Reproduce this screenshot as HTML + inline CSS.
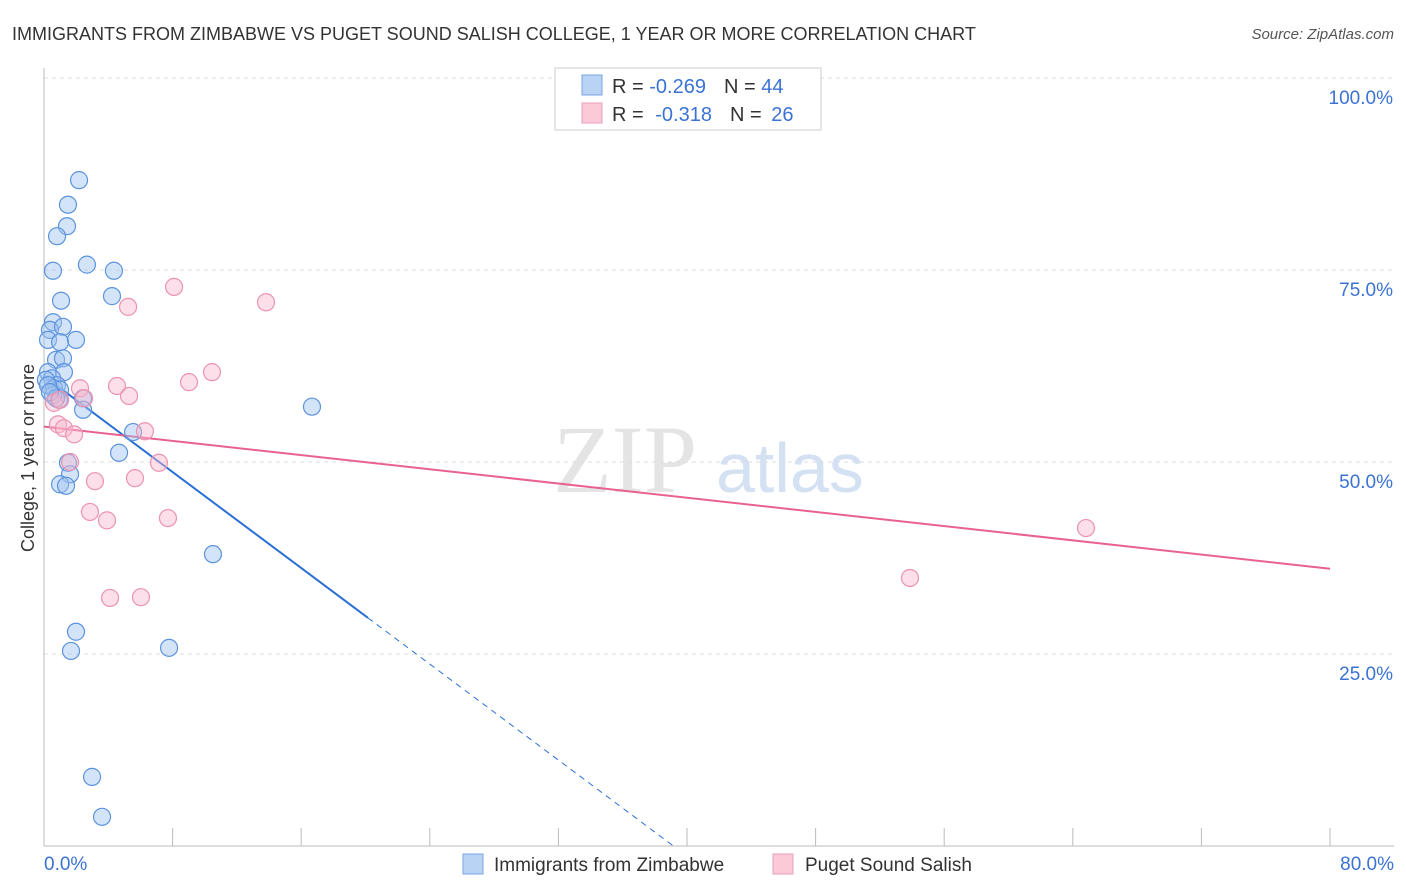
<!DOCTYPE html>
<html><head><meta charset="utf-8"><style>
body{margin:0;background:#fff;font-family:"Liberation Sans",sans-serif}
svg{display:block}
</style></head><body>
<svg id="chart" width="1406" height="892">
<text x="12" y="40" font-size="18" fill="#333">IMMIGRANTS FROM ZIMBABWE VS PUGET SOUND SALISH COLLEGE, 1 YEAR OR MORE CORRELATION CHART</text>
<text x="1394" y="39" font-size="15" fill="#555" font-style="italic" text-anchor="end">Source: ZipAtlas.com</text>
<text x="0" y="0" transform="translate(34,458) rotate(-90)" font-size="18" fill="#333" text-anchor="middle">College, 1 year or more</text>
<text x="553" y="492" font-size="96" fill="#e4e4e4" font-family="Liberation Serif">ZIP</text>
<text x="716" y="492" font-size="70" fill="#d3e1f3">atlas</text>
<g id="grid"></g><g id="axes"></g><g id="lines"></g><g id="pts"></g>
<g>
<rect x="555" y="68" width="266" height="62" fill="#fff" stroke="#ccc"/>
<rect x="582" y="75" width="20" height="20" fill="#b9d3f5" stroke="#7aa6e0"/>
<rect x="582" y="103" width="20" height="20" fill="#fbc9d8" stroke="#eea0b8"/>
<text x="612" y="93" font-size="20" fill="#333">R = <tspan fill="#3b73d4">-0.269</tspan><tspan dx="18">N = </tspan><tspan fill="#3b73d4">44</tspan></text>
<text x="612" y="121" font-size="20" fill="#333">R = <tspan dx="6" fill="#3b73d4">-0.318</tspan><tspan dx="18">N = </tspan><tspan dx="4" fill="#3b73d4">26</tspan></text>
</g>
<g>
<rect x="463" y="854" width="20" height="20" fill="#b9d3f5" stroke="#7aa6e0"/>
<text x="494" y="871" font-size="19" fill="#333">Immigrants from Zimbabwe</text>
<rect x="773" y="854" width="20" height="20" fill="#fbc9d8" stroke="#eea0b8"/>
<text x="805" y="871" font-size="19" fill="#333">Puget Sound Salish</text>
</g>
</svg>
<script>
const blueX=[2.18,1.49,1.43,0.81,0.56,2.67,4.35,4.23,1.06,0.56,0.37,1.18,0.25,1.0,1.99,0.75,1.18,0.25,1.24,0.5,0.81,0.12,0.62,1.0,0.93,0.56,2.43,2.43,5.54,4.67,1.49,1.62,1.0,1.37,10.51,16.67,1.99,1.68,7.78,2.99,3.61,0.25,0.75,0.37];
const blueY=[86.7,83.5,80.7,79.4,74.9,75.7,74.9,71.6,71.0,68.2,67.2,67.6,65.9,65.6,65.9,63.3,63.5,61.7,61.7,60.9,60.0,60.7,59.6,59.4,58.1,58.7,58.3,56.8,53.9,51.2,49.9,48.4,47.1,46.9,38.0,57.2,27.9,25.4,25.8,9.0,3.8,60.0,58.3,59.1];
const pinkX=[8.09,13.81,5.23,10.45,9.02,4.54,5.29,2.24,0.62,0.87,1.24,1.87,6.28,7.15,1.62,5.66,3.17,2.86,3.92,7.71,4.11,6.03,53.87,64.82,2.49,1.0];
const pinkY=[72.8,70.8,70.2,61.7,60.4,59.9,58.6,59.6,57.7,54.9,54.4,53.6,54.0,49.9,50.0,47.9,47.5,43.5,42.4,42.7,32.3,32.4,34.9,41.4,58.3,58.1];
const yTicks=[25,50,75,100];
const yTickLabels=["25.0%","50.0%","75.0%","100.0%"];
const xTickLabels=["0.0%","80.0%"];
const blueTrend=[61.2,-1.563];
const pinkTrend=[54.6,36.1];
const NS="http://www.w3.org/2000/svg";
const sx=v=>44+v/80*1286, sy=v=>846-v/100*768;
function mk(p,t,a){const e=document.createElementNS(NS,t);for(const k in a)e.setAttribute(k,a[k]);p.appendChild(e);return e;}
const grid=document.getElementById('grid'),axes=document.getElementById('axes'),lines=document.getElementById('lines'),pts=document.getElementById('pts');
yTicks.forEach((t,i)=>{
 const g=mk(grid,'line',{x1:44,x2:1394,y1:sy(t),y2:sy(t),stroke:'#ddd','stroke-dasharray':'4,4'});
 
 
 const l=mk(axes,'text',{x:1393,y:sy(t)+26,'font-size':19,fill:'#3b73d4','text-anchor':'end'});l.textContent=yTickLabels[i];
 
 
});
const ya=mk(axes,'line',{x1:44,x2:44,y1:68,y2:846,stroke:'#bbb'});


const xa=mk(axes,'line',{x1:44,x2:1394,y1:846,y2:846,stroke:'#bbb'});


for(let i=1;i<=10;i++){const t=mk(axes,'line',{x1:sx(i*8),x2:sx(i*8),y1:828,y2:846,stroke:'#bbb'});
 
 }
[[0,'start',44],[80,'end',1394]].forEach((d,i)=>{const l=mk(axes,'text',{x:d[2],y:870,'font-size':19,fill:'#3b73d4','text-anchor':d[1]});l.textContent=xTickLabels[i];
 
 });
// trends
const bx1=20.15, bx2=-blueTrend[0]/blueTrend[1];
const b1=mk(lines,'line',{x1:sx(0),y1:sy(blueTrend[0]),x2:sx(bx1),y2:sy(blueTrend[0]+blueTrend[1]*bx1),stroke:'#2a6fd6','stroke-width':2});


const b2=mk(lines,'line',{x1:sx(bx1),y1:sy(blueTrend[0]+blueTrend[1]*bx1),x2:sx(bx2),y2:sy(0),stroke:'#2a6fd6','stroke-width':1,'stroke-dasharray':'6,5'});


const p1=mk(lines,'line',{x1:sx(0),y1:sy(pinkTrend[0]),x2:sx(80),y2:sy(pinkTrend[1]),stroke:'#e8628d','stroke-width':2});


blueX.forEach((x,i)=>{const c=mk(pts,'circle',{cx:sx(x),cy:sy(blueY[i]),r:8.5,fill:'rgba(160,196,240,0.45)',stroke:'#5b93de','stroke-width':1.2});
 
 });
pinkX.forEach((x,i)=>{const c=mk(pts,'circle',{cx:sx(x),cy:sy(pinkY[i]),r:8.5,fill:'rgba(248,184,204,0.45)',stroke:'#ec93b0','stroke-width':1.2});
 
 });
</script>
</body></html>
